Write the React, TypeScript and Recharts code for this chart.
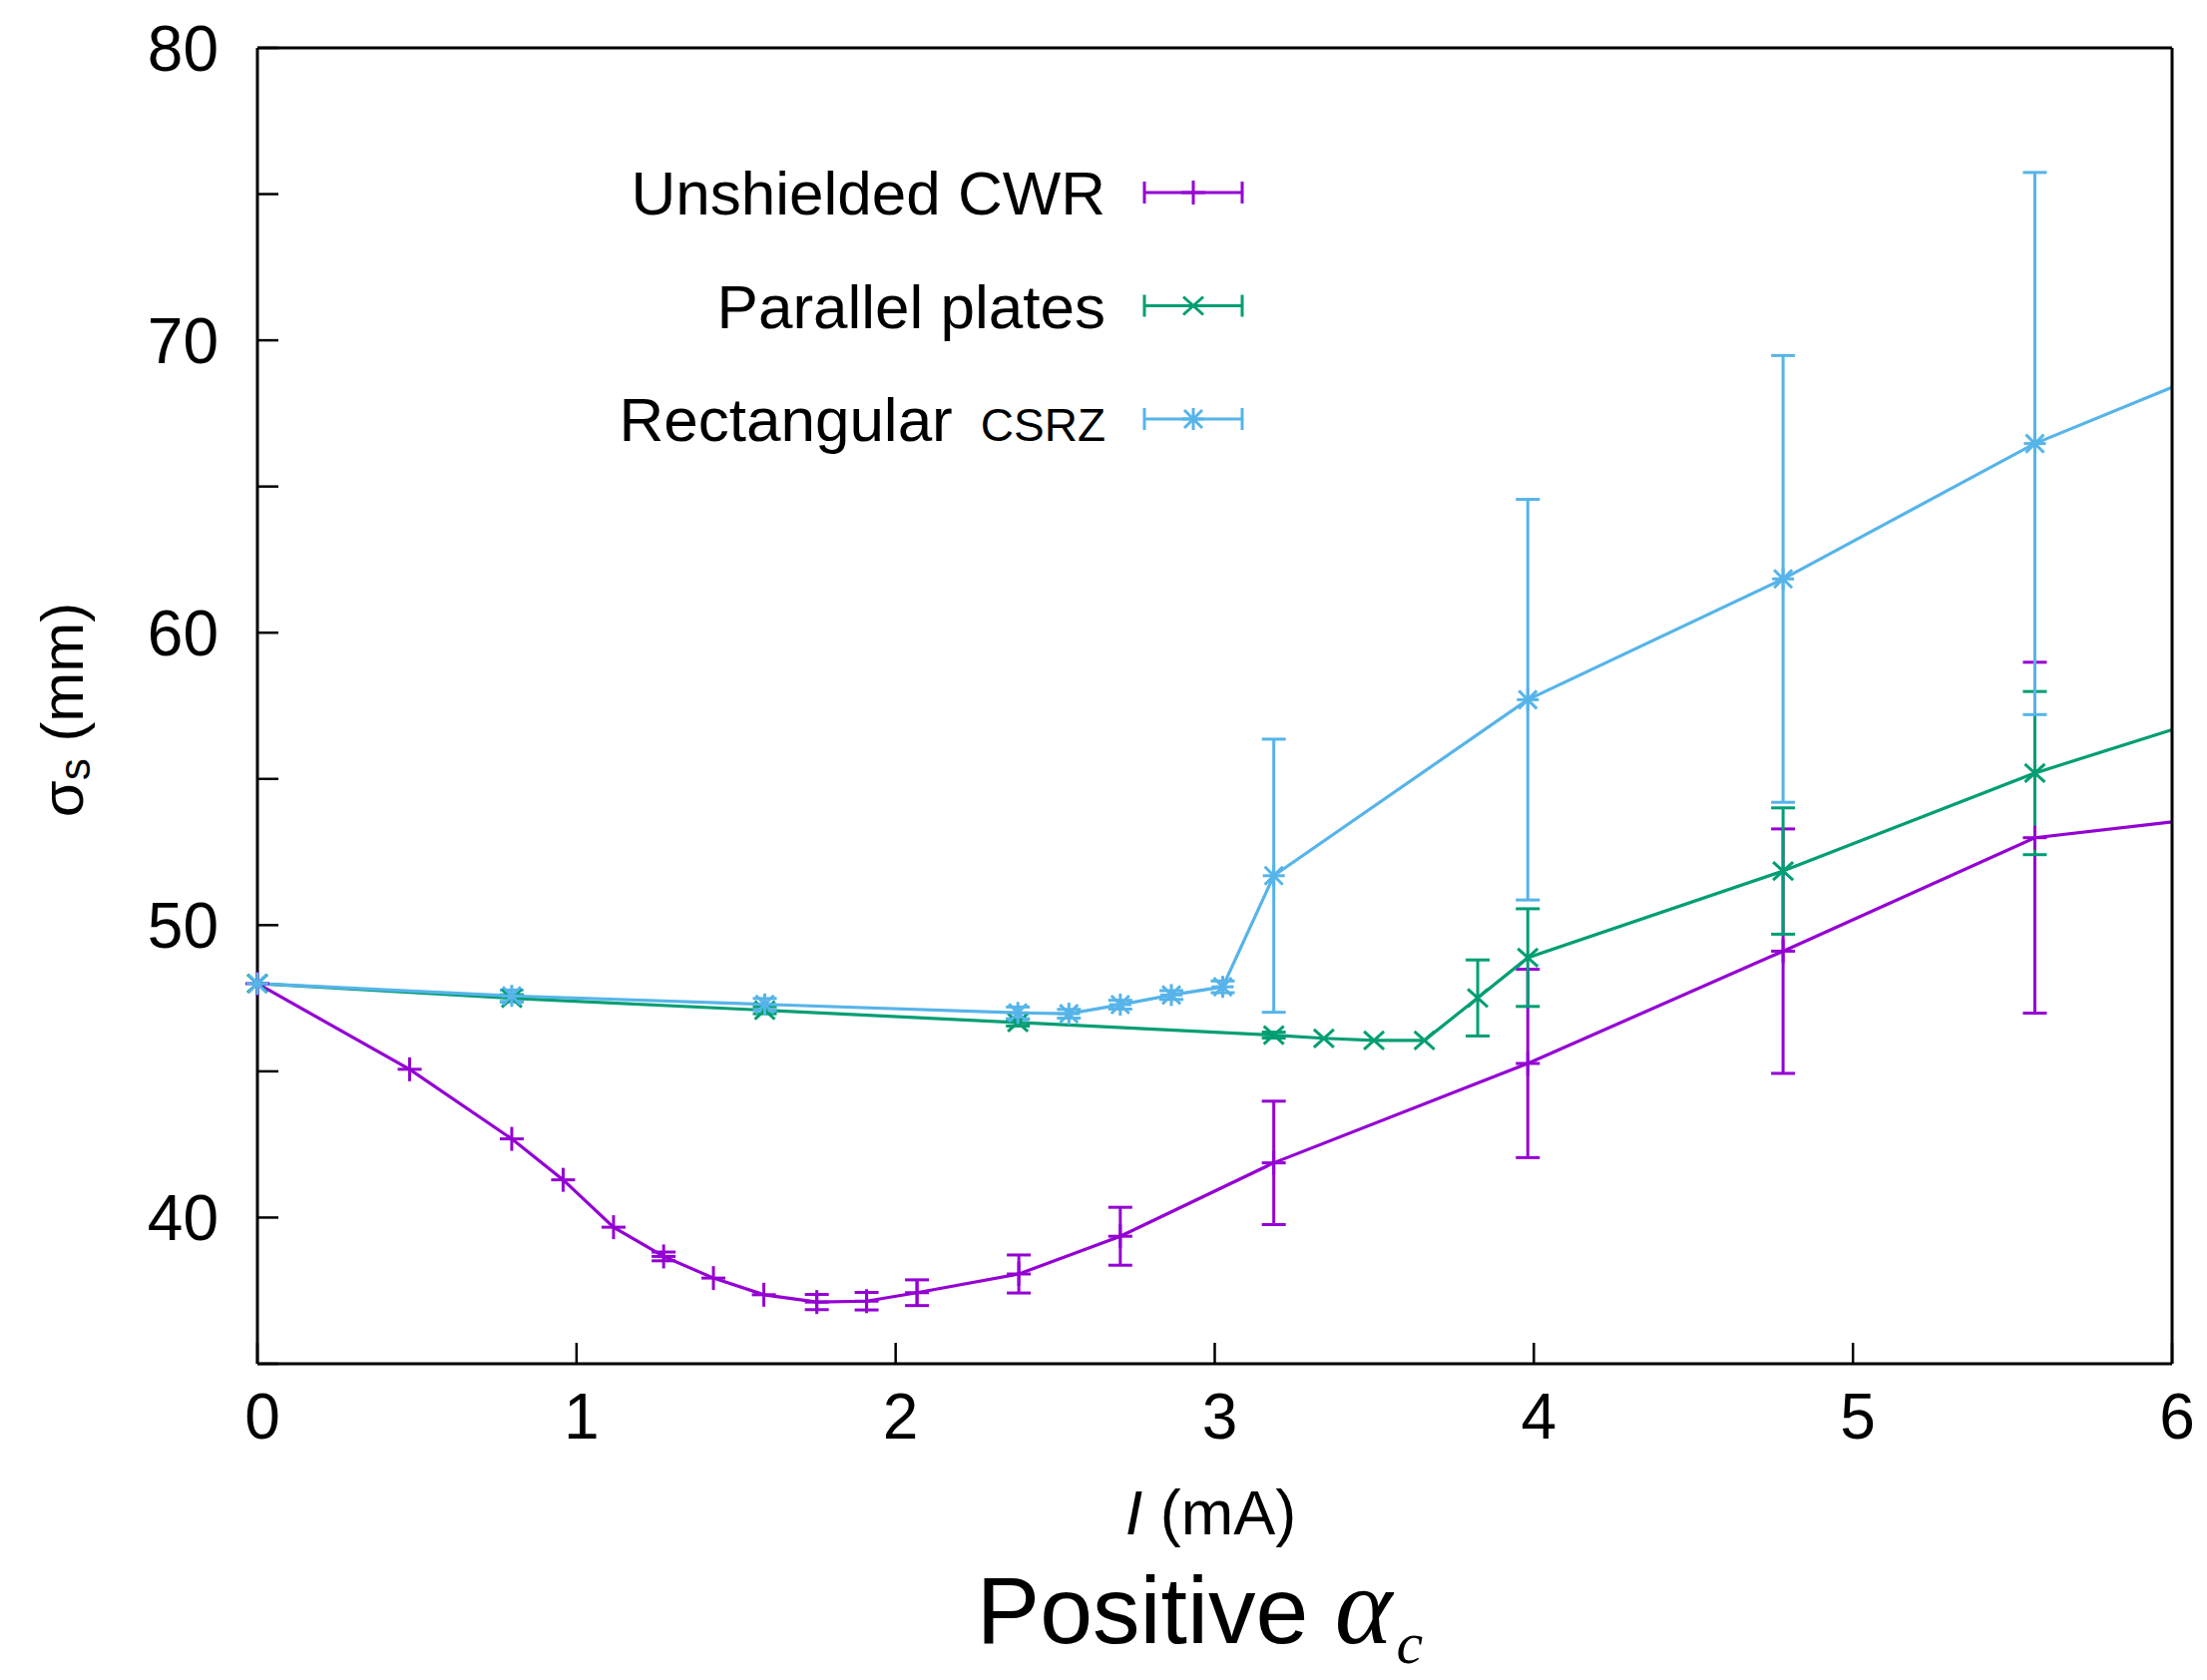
import { LineChart, Line, XAxis, YAxis, ErrorBar, Legend } from 'recharts'

const FONT = '"Liberation Sans", Arial, Helvetica, sans-serif'
const SERIF = '"Liberation Serif", "Times New Roman", serif'

const X_MAX = 6
const X_TICKS = [0, 1, 2, 3, 4, 5, 6]
const Y_TICKS = [35, 40, 45, 50, 55, 60, 65, 70, 75, 80]

// Unshielded CWR (purple, "+")
const cwrCurrent = [0, 0.477, 0.797, 0.958, 1.116, 1.273, 1.429, 1.587, 1.753, 1.909, 2.067, 2.386, 2.704, 3.185, 3.981, 4.781, 5.57, 6]
const cwrSigma = [48.0, 45.07, 42.69, 41.29, 39.67, 38.67, 37.93, 37.36, 37.11, 37.14, 37.43, 38.07, 39.36, 41.87, 45.27, 49.11, 52.99, 53.53]
const cwrErr = [null, null, null, null, null, 0.15, null, null, 0.26, 0.3, 0.44, 0.65, 0.99, 2.11, 3.22, 4.18, 6.0, null]

// Parallel plates (green, "x")
const platesCurrent = [0, 0.797, 1.59, 2.383, 3.185, 3.342, 3.499, 3.657, 3.824, 3.981, 4.781, 5.57, 6]
const platesSigma = [48.0, 47.5, 47.09, 46.67, 46.24, 46.13, 46.06, 46.06, 47.51, 48.89, 51.85, 55.2, 56.68]
const platesErr = [null, 0.12, 0.12, 0.12, 0.1, null, null, null, 1.3, 1.67, 2.16, 2.79, null]

// Rectangular CSRZ (blue, "*")
const csrzCurrent = [0, 0.797, 1.59, 2.383, 2.543, 2.704, 2.864, 3.025, 3.185, 3.981, 4.781, 5.57, 6]
const csrzSigma = [48.0, 47.58, 47.29, 47.0, 46.97, 47.28, 47.61, 47.89, 51.69, 57.71, 61.84, 66.47, 68.39]
const csrzErr = [null, 0.2, 0.2, 0.2, 0.15, 0.15, 0.15, 0.2, 4.67, 6.85, 7.64, 9.27, null]

const toPoints = (cur: number[], sig: number[], err: (number | null)[]) =>
  cur.map((c, i) => ({ current: c, sigma: sig[i], err: err[i] }))

type MarkerKind = 'plus' | 'cross' | 'star'

const SERIES: { name: string; label: string; small: string; color: string; marker: MarkerKind; data: any[] }[] = [
  { name: 'Unshielded CWR', label: 'Unshielded CWR', small: '', color: '#9400d3', marker: 'plus', data: toPoints(cwrCurrent, cwrSigma, cwrErr) },
  { name: 'Parallel plates', label: 'Parallel plates', small: '', color: '#009e73', marker: 'cross', data: toPoints(platesCurrent, platesSigma, platesErr) },
  { name: 'Rectangular CSRZ', label: 'Rectangular', small: 'CSRZ', color: '#56b4e9', marker: 'star', data: toPoints(csrzCurrent, csrzSigma, csrzErr) },
]

function drawMarker(kind: MarkerKind, color: string, cx: number, cy: number, key?: string) {
  const s = { stroke: color, strokeWidth: 3 }
  if (kind === 'plus') {
    return (
      <g key={key}>
        <line x1={cx - 12} y1={cy} x2={cx + 12} y2={cy} {...s} />
        <line x1={cx} y1={cy - 12} x2={cx} y2={cy + 12} {...s} />
      </g>
    )
  }
  if (kind === 'cross') {
    return (
      <g key={key}>
        <line x1={cx - 10} y1={cy - 9} x2={cx + 10} y2={cy + 9} {...s} />
        <line x1={cx - 10} y1={cy + 9} x2={cx + 10} y2={cy - 9} {...s} />
      </g>
    )
  }
  return (
    <g key={key}>
      <line x1={cx - 11} y1={cy} x2={cx + 11} y2={cy} {...s} />
      <line x1={cx} y1={cy - 11} x2={cx} y2={cy + 11} {...s} />
      <line x1={cx - 9} y1={cy - 9} x2={cx + 9} y2={cy + 9} {...s} />
      <line x1={cx - 9} y1={cy + 9} x2={cx + 9} y2={cy - 9} {...s} />
    </g>
  )
}

const markerDot = (kind: MarkerKind, color: string) => (props: any) => {
  const { cx, cy, payload, index } = props
  const key = `${kind}-${index}`
  // last row is only where the curve leaves the frame: no symbol there
  if (cx == null || cy == null || payload.current >= X_MAX) return <g key={key} />
  return drawMarker(kind, color, cx, cy, key)
}

const renderLegend = () => (
  <svg width={720} height={330} style={{ overflow: 'visible', display: 'block' }}>
    {SERIES.map((s, i) => {
      const cy = 53 + i * 113.5
      return (
        <g key={s.name}>
          <text x={548} y={cy + 22} textAnchor="end" fontFamily={FONT} fontSize={62} fill="#000">
            {s.label}
            {s.small && (
              <tspan dx={28} fontSize={46}>
                {s.small}
              </tspan>
            )}
          </text>
          <line x1={587} y1={cy} x2={685} y2={cy} stroke={s.color} strokeWidth={3} />
          <line x1={587} y1={cy - 11} x2={587} y2={cy + 11} stroke={s.color} strokeWidth={3} />
          <line x1={685} y1={cy - 11} x2={685} y2={cy + 11} stroke={s.color} strokeWidth={3} />
          {drawMarker(s.marker, s.color, 636, cy)}
        </g>
      )
    })}
  </svg>
)

const renderYLabel = (props: any) => {
  const vb = props.viewBox
  const cx = vb.x + 62
  const cy = vb.y + vb.height / 2 + 4
  return (
    <text
      x={cx}
      y={cy}
      transform={`rotate(-90, ${cx}, ${cy})`}
      textAnchor="middle"
      dominantBaseline="central"
      fontFamily={FONT}
      fontSize={60}
      fill="#000"
    >
      σ
      <tspan dy={12} fontSize={44}>s</tspan>
      <tspan dy={-12}> (mm)</tspan>
    </text>
  )
}

const renderXLabel = (props: any) => {
  const vb = props.viewBox
  const cx = vb.x + vb.width / 2
  return (
    <g>
      <text x={cx - 4} y={vb.y + 171} textAnchor="middle" fontFamily={FONT} fontSize={63} fill="#000">
        <tspan fontStyle="italic">I</tspan> (mA)
      </text>
      <text x={cx - 15} y={vb.y + 280} textAnchor="middle" fontFamily={FONT} fontSize={95} fill="#000">
        Positive{' '}
        <tspan fontFamily={SERIF} fontStyle="italic" fontSize={110}>α</tspan>
        <tspan fontFamily={SERIF} fontStyle="italic" fontSize={60} dy={20} dx={4}>c</tspan>
      </text>
    </g>
  )
}

const axisLine = { stroke: '#000', strokeWidth: 3 }
const tickLine = { stroke: '#000', strokeWidth: 2.5 }
const tickText = { fill: '#000', fontSize: 64, fontFamily: FONT }

export default function App() {
  return (
    <div style={{ width: 2212, height: 1684, background: '#fff' }}>
      <style>{'body{margin:0;background:#fff}'}</style>
      <LineChart width={2212} height={1684} margin={{ top: 47, right: 34, bottom: 0, left: 0 }}>
        <XAxis
          type="number"
          dataKey="current"
          domain={[0, X_MAX]}
          ticks={X_TICKS}
          interval={0}
          height={317}
          tickSize={-21}
          tickMargin={51}
          axisLine={axisLine}
          tickLine={tickLine}
          tick={{ ...tickText, dx: 5 }}
          label={renderXLabel}
        />
        <XAxis
          xAxisId="top"
          orientation="top"
          type="number"
          dataKey="current"
          domain={[0, X_MAX]}
          ticks={X_TICKS}
          interval={0}
          height={1}
          tickSize={-21}
          tickFormatter={() => ''}
          axisLine={axisLine}
          tickLine={tickLine}
        />
        <YAxis
          type="number"
          domain={[35, 80]}
          ticks={Y_TICKS}
          interval={0}
          width={258}
          tickSize={-21}
          tickMargin={60}
          tickFormatter={(v: number) => (v % 10 === 0 ? String(v) : '')}
          axisLine={axisLine}
          tickLine={tickLine}
          tick={tickText}
          label={renderYLabel}
        />
        <YAxis
          yAxisId="right"
          orientation="right"
          type="number"
          domain={[35, 80]}
          ticks={Y_TICKS}
          interval={0}
          width={1}
          tickSize={-21}
          tickFormatter={() => ''}
          axisLine={axisLine}
          tickLine={tickLine}
        />
        <Legend
          layout="vertical"
          align="center"
          verticalAlign="middle"
          wrapperStyle={{ left: 560, top: 140, width: 720, height: 330 }}
          content={renderLegend}
        />
        {SERIES.map(s => (
          <Line
            key={s.name}
            name={s.name}
            data={s.data}
            dataKey="sigma"
            type="linear"
            stroke={s.color}
            strokeWidth={3.2}
            dot={markerDot(s.marker, s.color)}
            activeDot={false}
            isAnimationActive={false}
          >
            <ErrorBar dataKey="err" direction="y" width={12} stroke={s.color} strokeWidth={3} isAnimationActive={false} />
          </Line>
        ))}
      </LineChart>
    </div>
  )
}
